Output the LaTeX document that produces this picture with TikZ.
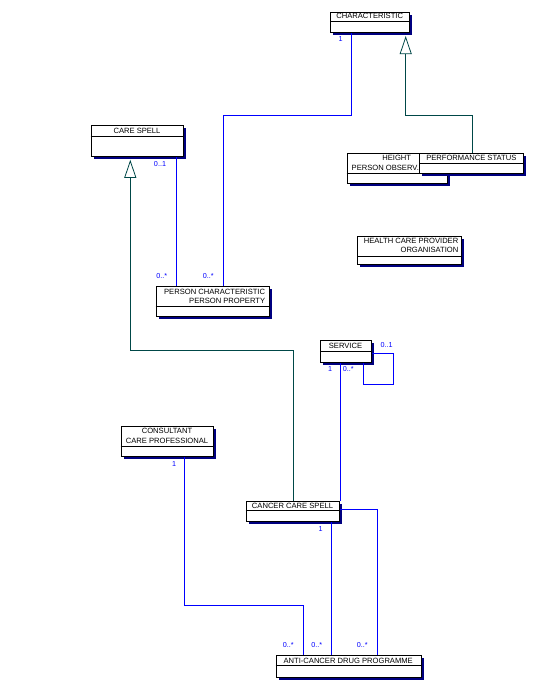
\documentclass[tikz,border=0pt]{standalone}
\usepackage{fontspec}
\setmainfont{Liberation Sans}
\usetikzlibrary{positioning,arrows.meta,calc}

\definecolor{assocblue}{RGB}{0,0,255}
\definecolor{gencol}{RGB}{0,72,72}
\definecolor{shadowblue}{RGB}{0,0,128}

\tikzset{
  classbox/.style={draw, fill=white, line width=0.8pt, anchor=north west, inner sep=0pt},
  nametext/.style={inner sep=0pt, font=\fontsize{7.6}{9.5}\selectfont},
  assoc/.style={draw=assocblue, line width=0.8pt},
  gen/.style={draw=gencol, line width=0.8pt, shorten >=3pt,
    -{Triangle[open, fill=white, length=18pt, width=12pt]}},
  mult/.style={text=assocblue, inner sep=0pt, font=\fontsize{7.2}{9}\selectfont}
}

% class box: name, top left corner, width, name compartment, full height
\newcommand{\umlclass}[5]{%
  \fill[shadowblue] ($(#2)+(3,3)$) rectangle ++(#3,#5);
  \node[classbox, minimum width=#3, minimum height=#5] (#1) at (#2) {};
  \draw[line width=0.8pt] (#1.north west) ++(0,#4) -- ++(#3,0);
}

\begin{document}
\begin{tikzpicture}[x=1pt, y=-1pt]
  \useasboundingbox (0,0) rectangle (537,690);
  % classes
  \umlclass{charac}{330,11.7}{79.3}{10}{20.6}
  \node[nametext] (characT) at (369.7,16) {CHARACTERISTIC};
  \umlclass{careSpell}{90.7,125}{92.6}{11}{31}
  \node[nametext] (careSpellT) at (137,131) {CARE SPELL};
  \umlclass{height}{346.7,152.7}{100}{20.3}{30.3}
  \node[nametext] (heightT) at (396.7,157.8) {HEIGHT};
  \node[nametext, anchor=west] (heightT2) at (351.5,168.3) {PERSON OBSERV.};
  \umlclass{perf}{419.3,152.7}{104}{10.6}{20.3}
  \node[nametext] (perfT) at (471.3,157.8) {PERFORMANCE STATUS};
  \umlclass{hcpo}{357.3,236}{103.7}{20.7}{28}
  \node[nametext, align=right, anchor=east] (hcpoT) at (458.5,245.5) {HEALTH CARE PROVIDER\\ORGANISATION};
  \umlclass{pchar}{155.7,285.7}{113.6}{21}{30}
  \node[nametext, align=right, anchor=east] (pcharT) at (265.3,296.5) {PERSON CHARACTERISTIC\\PERSON PROPERTY};
  \umlclass{service}{320,340}{51}{11}{21.7}
  \node[nametext] (serviceT) at (345.5,346) {SERVICE};
  \umlclass{cons}{120.7,425.7}{92.6}{21}{30.3}
  \node[nametext, align=center] (consT) at (167,436) {CONSULTANT\\CARE PROFESSIONAL};
  \umlclass{ccs}{245.7,500.7}{93.6}{10}{20.3}
  \node[nametext] (ccsT) at (292.5,506) {CANCER CARE SPELL};
  \umlclass{acdp}{275.7,655}{145}{10}{21.7}
  \node[nametext] (acdpT) at (348.2,661.3) {ANTI-CANCER DRUG PROGRAMME};
  % associations
  \draw[assoc] (charac.south -| 351,0) |- (223,115) -- (pchar.north -| 223,0);
  \draw[assoc] (careSpell.south -| 176,0) -- (pchar.north -| 176,0);
  \draw[assoc] (service.south -| 340.7,0) -- (ccs.north -| 340.7,0);
  \draw[assoc] (service.south -| 363.3,0) |- (393.3,384) |- (service.east |- 0,353.3);
  \draw[assoc] (cons.south -| 184.3,0) |- (303.3,605) -- (acdp.north -| 303.3,0);
  \draw[assoc] (ccs.south -| 331.3,0) -- (acdp.north -| 331.3,0);
  \draw[assoc] (ccs.east |- 0,509) -| (acdp.north -| 377.3,0);
  % generalisations
  \draw[gen] (perf.north -| 472.3,0) |- (405.7,115.3) -- (charac.south -| 405.7,0);
  \draw[gen] (ccs.north -| 293.3,0) |- (130.3,350) -- (careSpell.south -| 130.3,0);
  % multiplicities
  \node[mult] (m1) at (340.5,39) {1};
  \node[mult] (m2) at (208.3,275.7) {0..*};
  \node[mult] (m3) at (160,163.7) {0..1};
  \node[mult] (m4) at (161.7,275.7) {0..*};
  \node[mult] (m5) at (330,369.3) {1};
  \node[mult] (m6) at (348.3,369.3) {0..*};
  \node[mult] (m7) at (386.7,345) {0..1};
  \node[mult] (m8) at (174,464.3) {1};
  \node[mult] (m9) at (320.7,529.3) {1};
  \node[mult] (m10) at (288.3,645) {0..*};
  \node[mult] (m11) at (316.7,645) {0..*};
  \node[mult] (m12) at (362.3,645) {0..*};
\end{tikzpicture}
\end{document}
